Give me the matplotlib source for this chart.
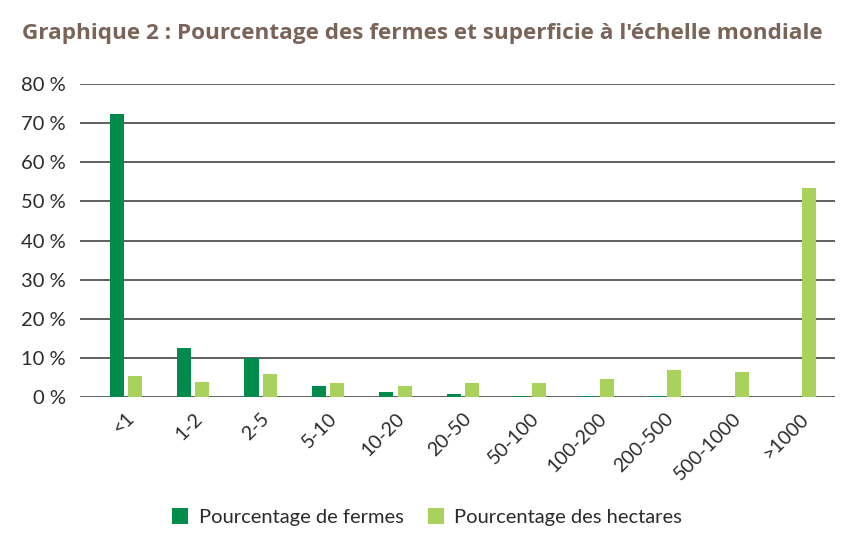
import matplotlib.pyplot as plt
import numpy as np

# classes de taille (ha)
categories = ['<1', '1-2', '2-5', '5-10', '10-20', '20-50', '50-100',
              '100-200', '200-500', '500-1000', '>1000']
fermes = [72.4, 12.5, 10.0, 2.7, 1.4, 0.7, 0.3, 0.2, 0.2, 0.1, 0.1]
hectares = [5.4, 3.8, 6.0, 3.5, 2.7, 3.5, 3.7, 4.7, 7.0, 6.3, 53.3]
yticks = [0, 10, 20, 30, 40, 50, 60, 70, 80]
ytick_labels = [f'{v} %' for v in yticks]

c_fermes = '#008a4b'
c_hect = '#a9d25c'
c_title = '#7a6357'
c_text = '#2b2b2b'

plt.rcParams['font.family'] = ['Lato', 'DejaVu Sans']

fig = plt.figure(figsize=(8.6, 5.45), dpi=100)
ax = fig.add_axes([80 / 860, 1 - 397 / 545, 755 / 860, 313 / 545])

x = np.arange(len(categories))
w = 0.21
ax.bar(x - 0.135, fermes, width=w, color=c_fermes, label='Pourcentage de fermes', zorder=3)
ax.bar(x + 0.135, hectares, width=w, color=c_hect, label='Pourcentage des hectares', zorder=3)

ax.set_ylim(0, 80)
ax.set_xlim(-0.68, 10.52)
ax.set_yticks(yticks)
ax.set_yticklabels(ytick_labels, fontsize=14.5, color=c_text)
ax.yaxis.grid(True, color='#444444', linewidth=1.2, zorder=0)
ax.tick_params(axis='y', length=0, pad=10)
ax.tick_params(axis='x', length=0, pad=9)
ax.set_xticks(x)
ax.set_xticklabels(categories, rotation=45, ha='right', rotation_mode='anchor',
                   fontsize=14, color=c_text)
for s in ax.spines.values():
    s.set_visible(False)

fig.text(22 / 860, 1 - 33 / 545, "Graphique 2 : Pourcentage des fermes et superficie à l'échelle mondiale",
         fontsize=16.2, fontweight='bold', color=c_title, va='center', ha='left',
         family=['Open Sans', 'DejaVu Sans'])

leg = fig.legend(loc='center', bbox_to_anchor=(427 / 860, 1 - 517 / 545), ncol=2,
                 frameon=False, fontsize=14.5, handlelength=0.8, handleheight=0.8,
                 handletextpad=0.5, columnspacing=1.2)
for t in leg.get_texts():
    t.set_color(c_text)

fig.savefig('out.png', dpi=100)
